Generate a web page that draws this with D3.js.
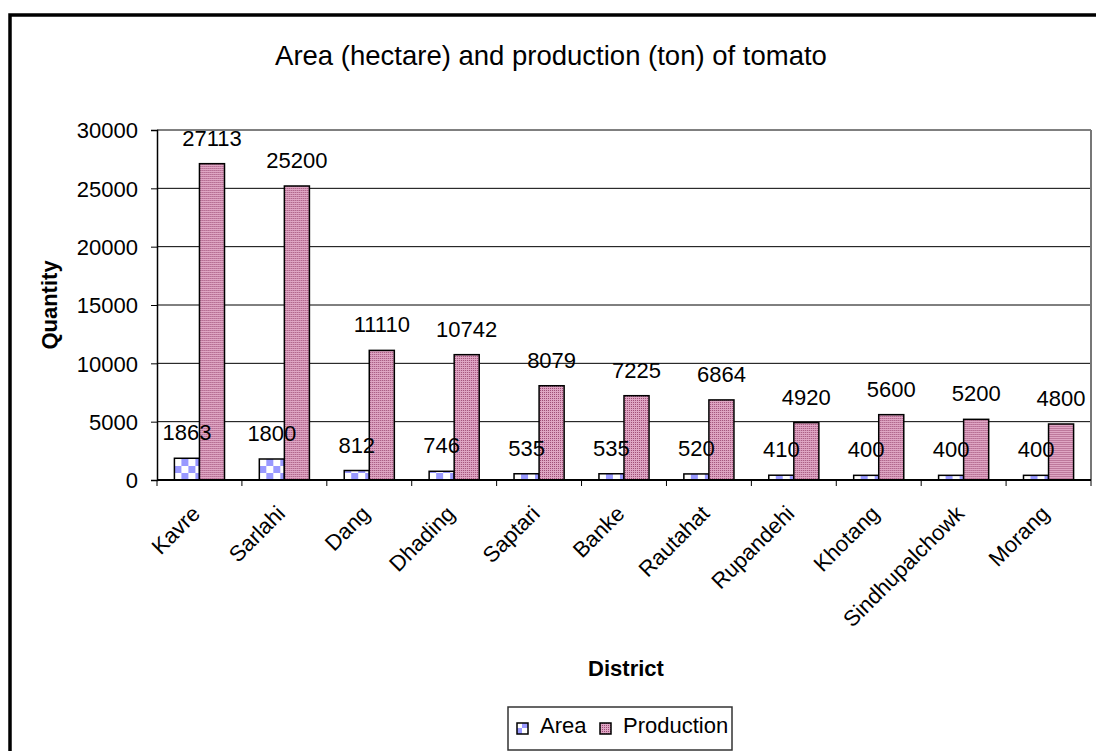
<!DOCTYPE html>
<html>
<head>
<meta charset="utf-8">
<script src="https://cdn.jsdelivr.net/npm/d3@7"></script>
<style>
  body { margin: 0; background: #fff; }
  text { font-family: "Liberation Sans", Arial, sans-serif; fill: #000; }
</style>
</head>
<body>
<div id="vis"></div>
<script>
const FRAME_WIDTH = 1096;
const FRAME_HEIGHT = 751;
const MARGINS = {left: 157, right: 5, top: 130, bottom: 271};
const VIS_WIDTH = FRAME_WIDTH - MARGINS.left - MARGINS.right;
const VIS_HEIGHT = FRAME_HEIGHT - MARGINS.top - MARGINS.bottom;

// data
const districts = ["Kavre", "Sarlahi", "Dang", "Dhading", "Saptari", "Banke",
  "Rautahat", "Rupandehi", "Khotang", "Sindhupalchowk", "Morang"];
const areaValues = [1863, 1800, 812, 746, 535, 535, 520, 410, 400, 400, 400];
const productionValues = [27113, 25200, 11110, 10742, 8079, 7225, 6864, 4920, 5600, 5200, 4800];
const seriesNames = ["Area", "Production"];
const yTicks = [0, 5000, 10000, 15000, 20000, 25000, 30000];

const data = districts.map((d, i) => ({district: d, Area: areaValues[i], Production: productionValues[i]}));

const svg = d3.select("#vis")
  .append("svg")
    .attr("width", FRAME_WIDTH)
    .attr("height", FRAME_HEIGHT);

// fill patterns like the old Excel ones
const defs = svg.append("defs");
const pArea = defs.append("pattern")
  .attr("id", "patArea")
  .attr("patternUnits", "userSpaceOnUse")
  .attr("width", 14).attr("height", 14);
pArea.append("rect").attr("width", 14).attr("height", 14).attr("fill", "#fff");
pArea.append("rect").attr("width", 7).attr("height", 7).attr("fill", "#9999ff");
pArea.append("rect").attr("x", 7).attr("y", 7).attr("width", 7).attr("height", 7).attr("fill", "#9999ff");

const pProd = defs.append("pattern")
  .attr("id", "patProd")
  .attr("patternUnits", "userSpaceOnUse")
  .attr("width", 2).attr("height", 2);
pProd.append("rect").attr("width", 2).attr("height", 2).attr("fill", "#dfa6c4");
pProd.append("rect").attr("width", 1).attr("height", 1).attr("fill", "#9c4a74");

const fills = {Area: "url(#patArea)", Production: "url(#patProd)"};

// outer chart border
svg.append("rect")
  .attr("x", 10).attr("y", 15)
  .attr("width", 1120).attr("height", 800)
  .attr("fill", "none")
  .attr("stroke", "#000")
  .attr("stroke-width", 3.5);

// title
svg.append("text")
  .attr("x", 551).attr("y", 65)
  .attr("text-anchor", "middle")
  .attr("font-size", "27.5px")
  .text("Area (hectare) and production (ton) of tomato");

const FRAME = svg.append("g")
  .attr("transform", "translate(" + MARGINS.left + "," + MARGINS.top + ")");

const X_SCALE = d3.scaleBand()
  .domain(districts)
  .range([0, VIS_WIDTH])
  .paddingInner(0.41)
  .paddingOuter(0.205);

const X_INNER = d3.scaleBand()
  .domain(seriesNames)
  .range([0, X_SCALE.bandwidth()]);

const Y_SCALE = d3.scaleLinear()
  .domain([0, 30000])
  .range([VIS_HEIGHT, 0]);

// gridlines
FRAME.selectAll(".grid")
  .data(yTicks.slice(1))
  .enter()
  .append("line")
    .attr("x1", 0).attr("x2", VIS_WIDTH)
    .attr("y1", d => Y_SCALE(d)).attr("y2", d => Y_SCALE(d))
    .attr("stroke", "#000")
    .attr("stroke-width", 1);

// right plot border
FRAME.append("line")
  .attr("x1", VIS_WIDTH).attr("x2", VIS_WIDTH)
  .attr("y1", 0).attr("y2", VIS_HEIGHT)
  .attr("stroke", "#777")
  .attr("stroke-width", 2);

// bars
const groups = FRAME.selectAll(".group")
  .data(data)
  .enter()
  .append("g")
    .attr("transform", d => "translate(" + X_SCALE(d.district) + ",0)");

groups.selectAll("rect")
  .data(d => seriesNames.map(s => ({key: s, value: d[s]})))
  .enter()
  .append("rect")
    .attr("x", d => X_INNER(d.key))
    .attr("y", d => Y_SCALE(d.value))
    .attr("width", X_INNER.bandwidth())
    .attr("height", d => VIS_HEIGHT - Y_SCALE(d.value))
    .attr("fill", d => fills[d.key])
    .attr("stroke", "#000")
    .attr("stroke-width", 1.5);

groups.selectAll(".lbl")
  .data(d => seriesNames.map(s => ({key: s, value: d[s]})))
  .enter()
  .append("text")
    .attr("x", d => X_INNER(d.key) + X_INNER.bandwidth() / 2)
    .attr("y", d => Y_SCALE(d.value) - 18)
    .attr("text-anchor", "middle")
    .attr("font-size", "22px")
    .text(d => d.value);

// y axis
const yAxis = FRAME.append("g")
  .call(d3.axisLeft(Y_SCALE).tickValues(yTicks).tickSize(6).tickPadding(13).tickFormat(d3.format("d")));
yAxis.select(".domain").attr("stroke-width", 1.5);
yAxis.selectAll("text").attr("font-size", "22px").attr("font-family", "Liberation Sans, Arial, sans-serif").attr("dy", "0.35em");

// x axis with ticks on category boundaries
FRAME.append("line")
  .attr("x1", 0).attr("x2", VIS_WIDTH)
  .attr("y1", VIS_HEIGHT).attr("y2", VIS_HEIGHT)
  .attr("stroke", "#000")
  .attr("stroke-width", 2);

const step = X_SCALE.step();
FRAME.selectAll(".xtick")
  .data(d3.range(districts.length + 1))
  .enter()
  .append("line")
    .attr("x1", i => X_SCALE(districts[0]) - step * X_SCALE.paddingOuter() + i * step)
    .attr("x2", i => X_SCALE(districts[0]) - step * X_SCALE.paddingOuter() + i * step)
    .attr("y1", VIS_HEIGHT).attr("y2", VIS_HEIGHT + 6)
    .attr("stroke", "#000")
    .attr("stroke-width", 1);

FRAME.selectAll(".xlabel")
  .data(districts)
  .enter()
  .append("text")
    .attr("text-anchor", "end")
    .attr("font-size", "22px")
    .attr("transform", d => "translate(" + (X_SCALE(d) + X_SCALE.bandwidth() / 2 + 2) + "," + (VIS_HEIGHT + 35) + ") rotate(-45)")
    .text(d => d);

// axis titles
svg.append("text")
  .attr("transform", "translate(57," + (MARGINS.top + VIS_HEIGHT / 2) + ") rotate(-90)")
  .attr("text-anchor", "middle")
  .attr("font-size", "22px")
  .attr("font-weight", "bold")
  .text("Quantity");

svg.append("text")
  .attr("x", 626).attr("y", 676)
  .attr("text-anchor", "middle")
  .attr("font-size", "22px")
  .attr("font-weight", "bold")
  .text("District");

// legend
const legend = svg.append("g").attr("transform", "translate(508,707)");
legend.append("rect")
  .attr("width", 224).attr("height", 43)
  .attr("fill", "#fff")
  .attr("stroke", "#333")
  .attr("stroke-width", 1.5);
const legendX = [9, 92];
seriesNames.forEach((s, i) => {
  legend.append("rect")
    .attr("x", legendX[i]).attr("y", 16)
    .attr("width", 11).attr("height", 11)
    .attr("fill", fills[s])
    .attr("stroke", "#000")
    .attr("stroke-width", 1.5);
  legend.append("text")
    .attr("x", legendX[i] + 23).attr("y", 26)
    .attr("font-size", "22px")
    .text(s);
});
</script>
</body>
</html>
